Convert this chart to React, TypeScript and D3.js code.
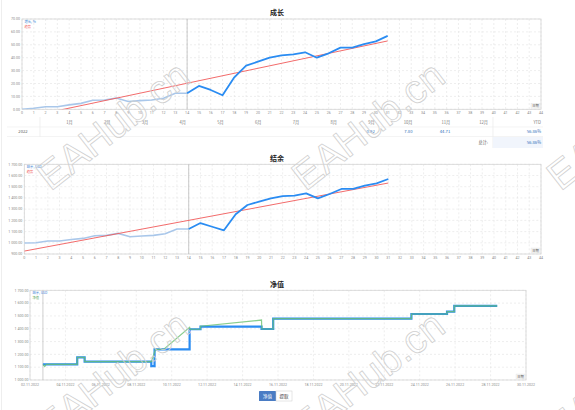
import React from 'react';
import * as d3 from 'd3';

// Weekly growth / balance (weeks 0..31), axis runs to 44
const weekTicks = d3.range(0, 45);
const growth = [0, 0.8, 2, 2, 3.4, 4.6, 7, 7.2, 8.8, 6, 6.7, 7.2, 8.5, 12.4, 12.4, 18.1, 15, 10.9, 24.8, 33.8, 36.9, 40, 41.8, 42.6, 44.2, 40, 43.4, 47.8, 47.8, 50.6, 52.7, 56.9];
const balance = [998, 1001, 1016, 1016, 1030, 1039, 1063, 1066, 1084, 1054, 1060, 1066, 1081, 1123, 1123, 1176, 1143, 1111, 1254, 1337, 1367, 1396, 1417, 1420, 1441, 1396, 1435, 1480, 1480, 1510, 1530, 1569];
const splitWeek = 14;
const growthTrend = [-6.8, 53.0];
const balanceTrend = [926, 1533];

const months = ['1月', '2月', '3月', '4月', '5月', '6月', '7月', '8月', '9月', '10月', '11月', '12月'];
const monthValues = ['', '', '', '', '', '', '', '', '0.92', '7.80', '44.71', ''];
const yearLabel = '2022';
const ytdValue = '56.86%';
const totalValue = '56.86%';

// Equity chart (time based)
const startTime = '2022-11-02 17:30';
const balanceSteps: [string, number][] = [
  ['2022-11-02 17:30', 1122], ['2022-11-04 16:00', 1177], ['2022-11-05 02:00', 1143],
  ['2022-11-08 20:20', 1109], ['2022-11-09 00:45', 1239], ['2022-11-11 00:15', 1396],
  ['2022-11-11 15:00', 1416], ['2022-11-15 01:40', 1398], ['2022-11-15 17:30', 1479],
  ['2022-11-23 12:45', 1515], ['2022-11-25 13:00', 1533], ['2022-11-25 22:50', 1578],
  ['2022-11-28 09:00', 1578],
];
const equityPoints: [string, number][] = [
  ['2022-11-02 17:30', 1122], ['2022-11-02 20:00', 1105], ['2022-11-02 22:00', 1122],
  ['2022-11-04 16:00', 1122], ['2022-11-04 16:05', 1177], ['2022-11-05 02:00', 1177],
  ['2022-11-05 02:05', 1143], ['2022-11-08 20:30', 1143], ['2022-11-09 02:00', 1239],
  ['2022-11-09 13:00', 1239], ['2022-11-11 00:15', 1412], ['2022-11-11 01:00', 1396],
  ['2022-11-11 15:00', 1396], ['2022-11-11 15:05', 1420], ['2022-11-15 01:40', 1468],
  ['2022-11-15 02:00', 1398], ['2022-11-15 17:30', 1398], ['2022-11-15 17:35', 1479],
  ['2022-11-23 12:45', 1479], ['2022-11-23 12:50', 1515], ['2022-11-25 13:00', 1515],
  ['2022-11-25 13:05', 1533], ['2022-11-25 22:50', 1533], ['2022-11-25 22:55', 1578],
  ['2022-11-28 09:00', 1578],
];
const dateStart = '2022-11-02 00:00';
const dateEnd = '2022-11-30 00:00';

const parseTime = d3.timeParse('%Y-%m-%d %H:%M');
const locale = d3.formatLocale({ decimal: '.', thousands: ' ', grouping: [3], currency: ['', ''] });
const fmtMoney = locale.format(',.2f');
const fmtPct = d3.format('.2f');

const cjk = '"Noto Sans CJK SC", "Noto Sans", sans-serif';
const gridColor = '#e3e3e3';
const labelColor = '#8a8a8a';
const lightBlue = '#a9c7ea';
const darkBlue = '#2a8cf2';
const red = '#f05a5a';

function Frame({ left, right, top, bottom, xs, ys, id }: any) {
  return (
    <g>
      <defs>
        <clipPath id={id}>
          <rect x={left} y={top} width={right - left} height={bottom - top} />
        </clipPath>
      </defs>
      {xs.map((x: number, i: number) => (
        <line key={'gx' + i} x1={x} x2={x} y1={top} y2={bottom} stroke={gridColor} strokeWidth={0.6} strokeDasharray="2,2" />
      ))}
      {ys.map((y: number, i: number) => (
        <line key={'gy' + i} x1={left} x2={right} y1={y} y2={y} stroke={gridColor} strokeWidth={0.6} strokeDasharray="2,2" />
      ))}
      <rect x={left} y={top} width={right - left} height={bottom - top} fill="none" stroke="#d4d4d4" strokeWidth={0.8} />
    </g>
  );
}

function DateBadge({ x, y }: any) {
  return (
    <g>
      <rect x={x - 9} y={y - 4} width={9} height={5} fill="#f4f4f4" stroke="#ddd" strokeWidth={0.3} />
      <text x={x - 4.5} y={y} fontSize={3.3} fill="#555" textAnchor="middle" fontFamily={cjk}>日期</text>
    </g>
  );
}

function WeekChart({ data, trend, yDomain, yTicks, fmt, left, right, top, bottom, title, titleY, legend, id }: any) {
  const x = d3.scaleLinear().domain([0, 44]).range([left, right]);
  const y = d3.scaleLinear().domain(yDomain).range([bottom, top]);
  const line = d3.line<number>().x((d, i) => x(i)).y(d => y(d));
  const first = data.slice(0, splitWeek + 1);
  const second = data.map((d: number, i: number) => (i >= splitWeek ? d : null));
  const line2 = d3.line<any>().defined(d => d !== null).x((d, i) => x(i)).y(d => y(d));
  const trendLine = d3.line<number>().x((d, i) => x(i === 0 ? 0 : data.length - 1)).y(d => y(d));
  return (
    <g>
      <text x={277} y={titleY} fontSize={7} fontWeight="bold" fill="#222" textAnchor="middle" fontFamily={cjk}>{title}</text>
      <Frame left={left} right={right} top={top} bottom={bottom} id={id}
        xs={weekTicks.map(t => x(t))} ys={yTicks.map((t: number) => y(t))} />
      {yTicks.map((t: number) => (
        <text key={t} x={left - 2} y={y(t) + 1.2} fontSize={3.6} fill={labelColor} textAnchor="end" fontFamily="Roboto, sans-serif">{fmt(t)}</text>
      ))}
      {weekTicks.map(t => (
        <text key={t} x={x(t)} y={bottom + 5} fontSize={3.6} fill={labelColor} textAnchor="middle" fontFamily="Roboto, sans-serif">{t}</text>
      ))}
      <line x1={x(splitWeek)} x2={x(splitWeek)} y1={top} y2={bottom} stroke="#bdbdbd" strokeWidth={0.8} />
      <g clipPath={`url(#${id})`}>
        <path d={line(first) || ''} fill="none" stroke={lightBlue} strokeWidth={1.6} />
        <path d={trendLine(trend) || ''} fill="none" stroke={red} strokeWidth={0.9} />
        <path d={line2(second) || ''} fill="none" stroke={darkBlue} strokeWidth={1.8} strokeLinejoin="round" />
      </g>
      <text x={left + 2.5} y={top + 4} fontSize={3.3} fill="#3a7fd5" fontFamily={cjk}>{legend}</text>
      <text x={left + 2.5} y={top + 9} fontSize={3.3} fill={red} fontFamily={cjk}>趋势</text>
      <DateBadge x={right - 1} y={bottom - 2} />
    </g>
  );
}

function MonthTable() {
  const left = 40, right = 493, cw = (right - left) / 12;
  return (
    <g fontFamily={cjk}>
      <line x1={40} x2={40} y1={117} y2={137} stroke="#e6e6e6" strokeWidth={0.6} />
      <line x1={493} x2={493} y1={117} y2={148} stroke="#e6e6e6" strokeWidth={0.6} />
      <line x1={7} x2={543} y1={127} y2={127} stroke="#ececec" strokeWidth={0.6} />
      <line x1={7} x2={543} y1={136.5} y2={136.5} stroke="#ececec" strokeWidth={0.6} />
      <rect x={493} y={137} width={50} height={11} fill="#f1f5fc" />
      {months.map((m, i) => (
        <text key={m} x={left + (i + 1) * cw - 5} y={123.5} fontSize={4.2} fill="#777" textAnchor="end">{m}</text>
      ))}
      <text x={541} y={123.5} fontSize={4.2} fill="#777" textAnchor="end">YTD</text>
      <text x={23} y={133} fontSize={4.2} fill="#555" textAnchor="middle">{yearLabel}</text>
      {monthValues.map((v, i) => v ? (
        <text key={i} x={left + (i + 1) * cw - 5} y={133} fontSize={4.2} fill="#2f6fb8" textAnchor="end">{fmtPct(+v)}</text>
      ) : null)}
      <text x={541} y={133} fontSize={4.2} fill="#2f6fb8" textAnchor="end">{ytdValue}</text>
      <text x={488} y={143.5} fontSize={4.2} fill="#555" textAnchor="end">总计:</text>
      <text x={541} y={143.5} fontSize={4.2} fill="#2f6fb8" textAnchor="end">{totalValue}</text>
    </g>
  );
}

function EquityChart() {
  const left = 30, right = 526, top = 290.3, bottom = 380;
  const x = d3.scaleTime().domain([parseTime(dateStart)!, parseTime(dateEnd)!]).range([left, right]);
  const y = d3.scaleLinear().domain([1000, 1700]).range([bottom, top]);
  const yTicks = d3.range(1000, 1701, 100);
  const xTicks = d3.timeDay.range(parseTime(dateStart)!, d3.timeDay.offset(parseTime(dateEnd)!, 1), 2);
  const fmtDate = d3.timeFormat('%d.%m.%Y');
  const bLine = d3.line<[string, number]>().x(d => x(parseTime(d[0])!)).y(d => y(d[1])).curve(d3.curveStepAfter);
  const eLine = d3.line<[string, number]>().x(d => x(parseTime(d[0])!)).y(d => y(d[1]));
  const sx = x(parseTime(startTime)!);
  return (
    <g>
      <text x={277} y={287} fontSize={7} fontWeight="bold" fill="#222" textAnchor="middle" fontFamily={cjk}>净值</text>
      <Frame left={left} right={right} top={top} bottom={bottom} id="clip3"
        xs={xTicks.map(t => x(t))} ys={yTicks.map(t => y(t))} />
      {yTicks.map(t => (
        <text key={t} x={left - 1.5} y={y(t) + 1.2} fontSize={3.6} fill={labelColor} textAnchor="end" fontFamily="Roboto, sans-serif">{fmtMoney(t)}</text>
      ))}
      {xTicks.map((t, i) => (
        <text key={i} x={x(t)} y={bottom + 5.5} fontSize={3.6} fill={labelColor} textAnchor="middle" fontFamily="Roboto, sans-serif">{fmtDate(t)}</text>
      ))}
      <line x1={sx} x2={sx} y1={top} y2={bottom} stroke="#c4c4c4" strokeWidth={0.8} />
      <path d={bLine(balanceSteps) || ''} fill="none" stroke={darkBlue} strokeWidth={2.2} />
      <path d={eLine(equityPoints) || ''} fill="none" stroke="#6cc070" strokeWidth={1.2} strokeOpacity={0.8} />
      <text x={left + 2.5} y={top + 4} fontSize={3.3} fill="#3a7fd5" fontFamily={cjk}>结余, USD</text>
      <text x={left + 2.5} y={top + 9} fontSize={3.3} fill="#5aa85a" fontFamily={cjk}>净值</text>
      <DateBadge x={right - 1} y={bottom - 2} />
      <rect x={259} y={391} width={17} height={10} fill="#4a7cc4" rx={0.5} />
      <text x={267.5} y={397.6} fontSize={4.5} fill="#fff" textAnchor="middle" fontFamily={cjk}>净值</text>
      <rect x={276} y={391} width={16} height={10} fill="#fff" stroke="#ccc" strokeWidth={0.5} />
      <text x={284} y={397.6} fontSize={4.5} fill="#333" textAnchor="middle" fontFamily={cjk}>提取</text>
    </g>
  );
}

const watermarkCenters = [[115, 128], [370, 128], [625, 128], [115, 378], [370, 378], [625, 380]];

export default function App() {
  return (
    <svg width={575} height={410} style={{ position: 'absolute', left: 0, top: 0, background: '#fff' }}>
      <line x1={1.5} x2={1.5} y1={0} y2={410} stroke="#eeeeee" strokeWidth={1} />
      <WeekChart id="clip1" data={growth} trend={growthTrend} yDomain={[0, 70]} yTicks={d3.range(0, 71, 10)}
        fmt={(v: number) => fmtPct(v)} left={22} right={541} top={19} bottom={109.3}
        title="成长" titleY={15} legend="增长, %" />
      <MonthTable />
      <WeekChart id="clip2" data={balance} trend={balanceTrend} yDomain={[900, 1700]} yTicks={d3.range(900, 1701, 100)}
        fmt={(v: number) => fmtMoney(v)} left={24.3} right={541} top={164.3} bottom={254}
        title="结余" titleY={161} legend="结余, USD" />
      <EquityChart />
      {watermarkCenters.map(([cx, cy], i) => (
        <text key={i} x={0} y={0} transform={`translate(${cx},${cy}) rotate(-38)`} fontSize={40}
          fontFamily="'Liberation Sans', sans-serif" fill="none" stroke="#cfcfcf" strokeWidth={0.8}
          textAnchor="middle" dominantBaseline="middle">EAHub.cn</text>
      ))}
    </svg>
  );
}
